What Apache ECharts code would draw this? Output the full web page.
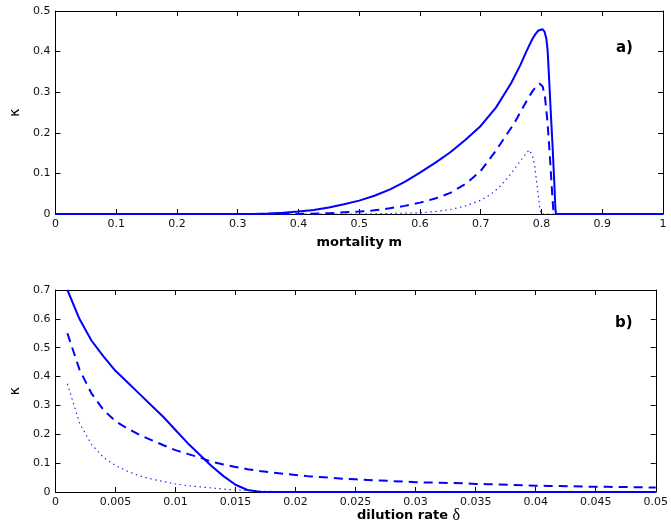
<!DOCTYPE html>
<html>
<head>
<meta charset="utf-8">
<script src="https://cdn.jsdelivr.net/npm/echarts@6/dist/echarts.min.js"></script>
<style>html,body{margin:0;padding:0;background:#fff}#c{width:671px;height:532px}</style>
</head>
<body>
<div id="c"></div>
<script>
// ---- panel a) kappa vs mortality m : [m, kappa] pairs ----
const aSolid = [[0,0],[0.3,0],[0.325,0.0003],[0.35,0.001],[0.375,0.003],[0.4,0.006],[0.425,0.010],[0.45,0.016],[0.475,0.024],[0.5,0.033],[0.525,0.045],[0.55,0.06],[0.575,0.079],[0.6,0.102],[0.625,0.126],[0.65,0.152],[0.675,0.183],[0.7,0.217],[0.725,0.262],[0.75,0.322],[0.765,0.366],[0.775,0.400],[0.785,0.431],[0.79,0.443],[0.795,0.452],[0.798,0.455],[0.802,0.455],[0.805,0.449],[0.808,0.432],[0.81,0.405],[0.812,0.35],[0.815,0.26],[0.818,0.175],[0.821,0.08],[0.823,0.01],[0.824,0],[1,0]];
const aDashed = [[0,0],[0.4,0],[0.45,0.002],[0.5,0.006],[0.525,0.009],[0.55,0.014],[0.575,0.02],[0.6,0.028],[0.625,0.038],[0.65,0.052],[0.675,0.074],[0.7,0.106],[0.725,0.156],[0.74,0.19],[0.755,0.223],[0.765,0.25],[0.775,0.277],[0.785,0.302],[0.792,0.316],[0.797,0.321],[0.802,0.314],[0.806,0.285],[0.81,0.225],[0.813,0.16],[0.816,0.09],[0.818,0.04],[0.82,0],[1,0]];
const aDotted = [[0,0],[0.5,0],[0.55,0.001],[0.6,0.003],[0.625,0.006],[0.65,0.011],[0.675,0.02],[0.7,0.034],[0.715,0.047],[0.73,0.065],[0.745,0.09],[0.755,0.11],[0.765,0.13],[0.775,0.15],[0.78,0.158],[0.785,0.145],[0.789,0.117],[0.793,0.067],[0.797,0.018],[0.799,0],[1,0]];

// ---- panel b) kappa vs dilution rate delta ----
const delta = [0.001,0.002,0.003,0.004,0.005,0.006,0.007,0.008,0.009,0.010,
               0.011,0.012,0.013,0.014,0.015,0.016,0.017,0.018,0.019,0.020,
               0.021,0.022,0.023,0.024,0.025,0.026,0.027,0.028,0.029,0.030,
               0.031,0.032,0.033,0.034,0.035,0.036,0.037,0.038,0.039,0.040,
               0.041,0.042,0.043,0.044,0.045,0.046,0.047,0.048,0.049,0.050];
const bSolid = [0.70,0.60,0.525,0.47,0.42,0.38,0.34,0.30,0.26,0.215,
                0.17,0.13,0.09,0.055,0.025,0.007,0.001,0,0,0,
                0,0,0,0,0,0,0,0,0,0,
                0,0,0,0,0,0,0,0,0,0,
                0,0,0,0,0,0,0,0,0,0];
const bDashed = [0.55,0.425,0.342,0.285,0.245,0.22,0.198,0.18,0.162,0.145,
                 0.132,0.12,0.105,0.095,0.087,0.079,0.073,0.068,0.063,0.059,
                 0.055,0.052,0.049,0.046,0.044,0.042,0.040,0.038,0.036,0.034,
                 0.033,0.032,0.031,0.030,0.028,0.027,0.026,0.025,0.023,0.022,
                 0.021,0.021,0.020,0.019,0.018,0.018,0.017,0.017,0.016,0.016];
const bDotted = [0.375,0.24,0.165,0.12,0.092,0.072,0.056,0.045,0.036,0.028,
                 0.022,0.018,0.014,0.010,0.007,0.005,0.003,0.002,0.001,0,
                 0,0,0,0,0,0,0,0,0,0,
                 0,0,0,0,0,0,0,0,0,0,
                 0,0,0,0,0,0,0,0,0,0];

const xTicksA = {min:0, max:1, interval:0.1};
const yTicksA = {min:0, max:0.5, interval:0.1};
const xTicksB = {min:0, max:0.05, interval:0.005};
const yTicksB = {min:0, max:0.7, interval:0.1};

const FONT = 'DejaVu Sans';
const fmt = v => String(parseFloat(Number(v).toFixed(6)));
const axLine = {show:true, onZero:false, lineStyle:{color:'#000', width:1}};
const axTick = {show:true, inside:true, length:5, lineStyle:{color:'#000', width:1}};
const lbl = {show:true, color:'#111', fontFamily:FONT, fontSize:11, margin:5, formatter:fmt};
const nameStyle = {color:'#000', fontFamily:FONT, fontSize:13, fontWeight:'bold'};

function mainX(g, t, name, gap){
  return Object.assign({gridIndex:g, type:'value', position:'bottom', axisLine:axLine, axisTick:axTick,
    axisLabel:Object.assign({}, lbl, {showMaxLabel:true, showMinLabel:true}), splitLine:{show:false},
    name:name, nameLocation:'middle', nameGap:gap, nameTextStyle:nameStyle}, t);
}
function mirrorX(g, t){
  return Object.assign({gridIndex:g, type:'value', position:'top', axisLine:axLine, axisTick:axTick,
    axisLabel:{show:false}, splitLine:{show:false}}, t);
}
function mainY(g, t){
  return Object.assign({gridIndex:g, type:'value', position:'left', axisLine:axLine, axisTick:axTick,
    axisLabel:lbl, splitLine:{show:false},
    name:'κ', nameLocation:'middle', nameGap:30, nameRotate:90,
    nameTextStyle:{color:'#000', fontFamily:FONT, fontSize:14}}, t);
}
function mirrorY(g, t){
  return Object.assign({gridIndex:g, type:'value', position:'right', axisLine:axLine, axisTick:axTick,
    axisLabel:{show:false}, splitLine:{show:false}}, t);
}

const BLUE = '#0000ff';
function line(xi, yi, data, style){
  return {type:'line', xAxisIndex:xi, yAxisIndex:yi, data:data, showSymbol:false, symbol:'none',
    smooth:false, lineStyle:Object.assign({color:BLUE}, style), itemStyle:{color:BLUE}, z:2, silent:true};
}
const solidS = {width:2, type:'solid'};
const dashedS = {width:2, type:[9,6]};
const dottedS = {width:1.2, type:[1.5,3.5], color:'#2a2aff'};

const bPairs = arr => delta.map((d,i)=>[d, arr[i]]);

const option = {
  animation:false,
  backgroundColor:'#fff',
  grid:[{left:52, top:11, width:611, height:203},{left:52, top:290, width:611, height:202}],
  xAxis:[ mainX(0, xTicksA, 'mortality m', 22), mirrorX(0, xTicksA),
          mainX(1, xTicksB, '', 21), mirrorX(1, xTicksB) ],
  yAxis:[ mainY(0, yTicksA), mirrorY(0, yTicksA), mainY(1, yTicksB), mirrorY(1, yTicksB) ],
  series:[
    line(0,0,aDotted,dottedS), line(0,0,aDashed,dashedS), line(0,0,aSolid,solidS),
    line(2,2,bPairs(bDotted),dottedS), line(2,2,bPairs(bDashed),dashedS), line(2,2,bPairs(bSolid),solidS)
  ],
  graphic:[
    {type:'text', left:616, top:41, style:{text:'a)', font:'bold 15px "DejaVu Sans"', fill:'#000'}},
    {type:'text', left:615, top:316, style:{text:'b)', font:'bold 15px "DejaVu Sans"', fill:'#000'}},
    {type:'text', left:357, top:508, style:{
      text:'{b|dilution rate }{d|δ}', x:0, y:0, textAlign:'center',
      rich:{b:{fontFamily:FONT, fontSize:13, fontWeight:'bold', fill:'#000'},
            d:{fontFamily:'Liberation Serif', fontSize:16, fill:'#000'}}}}
  ]
};
const chart = echarts.init(document.getElementById('c'), null, {renderer:'canvas'});
chart.setOption(option);
</script>
</body>
</html>
